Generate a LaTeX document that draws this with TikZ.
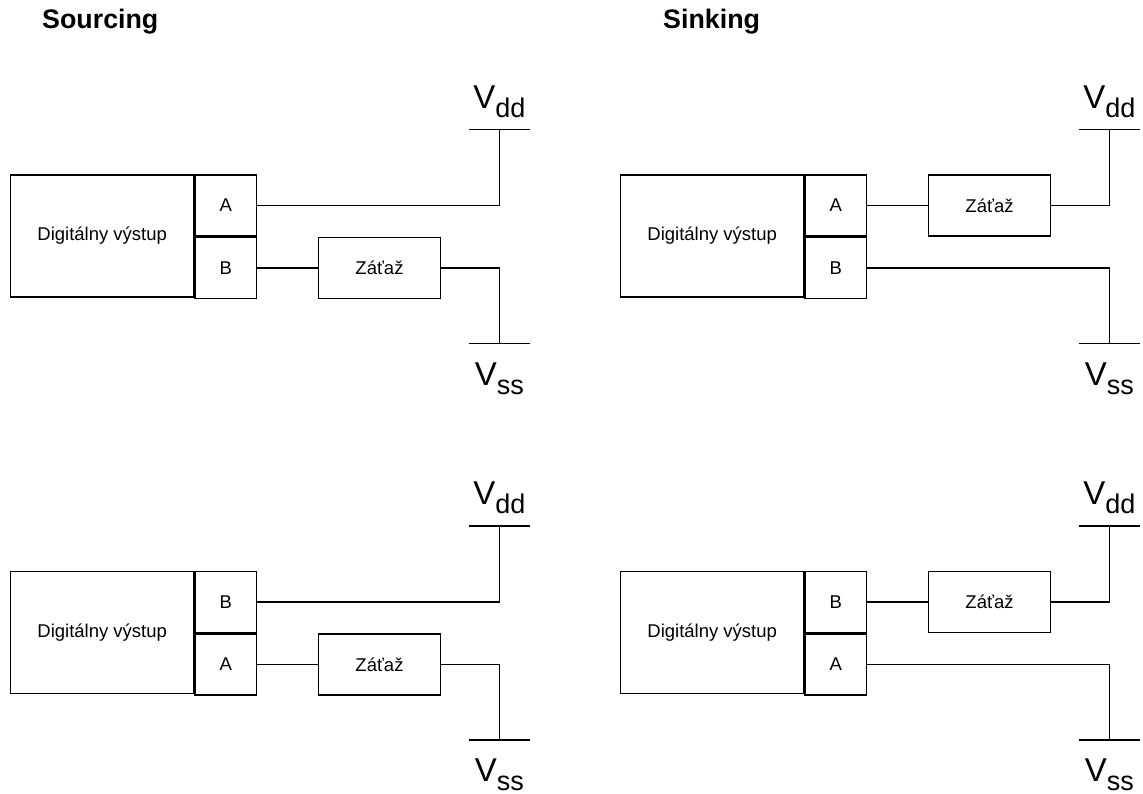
\documentclass[tikz,border=0pt]{standalone}
\usepackage{fontspec}
\setmainfont{Liberation Sans}
\usetikzlibrary{positioning}

\tikzset{
  box/.style={draw, line width=1.5pt, inner sep=0pt, font=\fontsize{18.5}{22}\selectfont},
  vystup/.style={box, minimum width=183pt, minimum height=122pt},
  port/.style={box, minimum width=61.3pt, minimum height=61pt},
  zataz/.style={box, minimum width=122pt, minimum height=61pt},
  wire/.style={line width=1.5pt},
  napatie/.style={inner sep=0pt, anchor=base, font=\fontsize{33}{33}\selectfont},
  nadpis/.style={inner sep=0pt, anchor=base west, font=\fontsize{26.8}{27}\selectfont\bfseries}
}
\newcommand{\napsub}[1]{\raisebox{-9pt}{\fontsize{27}{27}\selectfont #1}}

\begin{document}
\begin{tikzpicture}[x=1pt, y=-1pt]
    \useasboundingbox (0,0) rectangle (1143,794);

    % Titles
    \node[nadpis] (src) at (42,29)  {Sourcing};
    \node[nadpis] (snk) at (663,29) {Sinking};

    \foreach \dy/\pt/\pb/\r in {0/A/B/h, 396.5/B/A/d} {
      % Sourcing
      \begin{scope}[shift={(0,\dy)}, name prefix=so\r-]
        \node[vystup] (out) at (102.2,236) {Digitálny výstup};
        \node[port, anchor=north west] (pa) at (out.north east) {\pt};
        \node[port, anchor=north] (pb) at (pa.south) {\pb};
        \node[zataz, right=60.5pt of pb] (load) {Záťaž};
        \coordinate (vdd) at (499.3,129.3);
        \coordinate (vss) at (499.3,343.3);
        \draw[wire] ([xshift=-30.5pt]vdd) -- ([xshift=30.5pt]vdd);
        \draw[wire] ([xshift=-30.5pt]vss) -- ([xshift=30.5pt]vss);
        \node[napatie] (vddl) at ([yshift=21pt]vdd) {V\napsub{dd}};
        \node[napatie] (vssl) at ([yshift=-41.7pt]vss) {V\napsub{ss}};
        \draw[wire] (pa.east) -- (pa.east -| vdd) -- (vdd);
        \draw[wire] (pb.east) -- (load.west);
        \draw[wire] (load.east) -- (load.east -| vss) -- (vss);
      \end{scope}
      % Sinking
      \begin{scope}[shift={(610,\dy)}, name prefix=si\r-]
        \node[vystup] (out) at (102.2,236) {Digitálny výstup};
        \node[port, anchor=north west] (pa) at (out.north east) {\pt};
        \node[port, anchor=north] (pb) at (pa.south) {\pb};
        \node[zataz, right=60.5pt of pa] (load) {Záťaž};
        \coordinate (vdd) at (499.3,129.3);
        \coordinate (vss) at (499.3,343.3);
        \draw[wire] ([xshift=-30.5pt]vdd) -- ([xshift=30.5pt]vdd);
        \draw[wire] ([xshift=-30.5pt]vss) -- ([xshift=30.5pt]vss);
        \node[napatie] (vddl) at ([yshift=21pt]vdd) {V\napsub{dd}};
        \node[napatie] (vssl) at ([yshift=-41.7pt]vss) {V\napsub{ss}};
        \draw[wire] (pa.east) -- (load.west);
        \draw[wire] (load.east) -- (load.east -| vdd) -- (vdd);
        \draw[wire] (pb.east) -- (pb.east -| vss) -- (vss);
      \end{scope}
    }
\end{tikzpicture}
\end{document}
